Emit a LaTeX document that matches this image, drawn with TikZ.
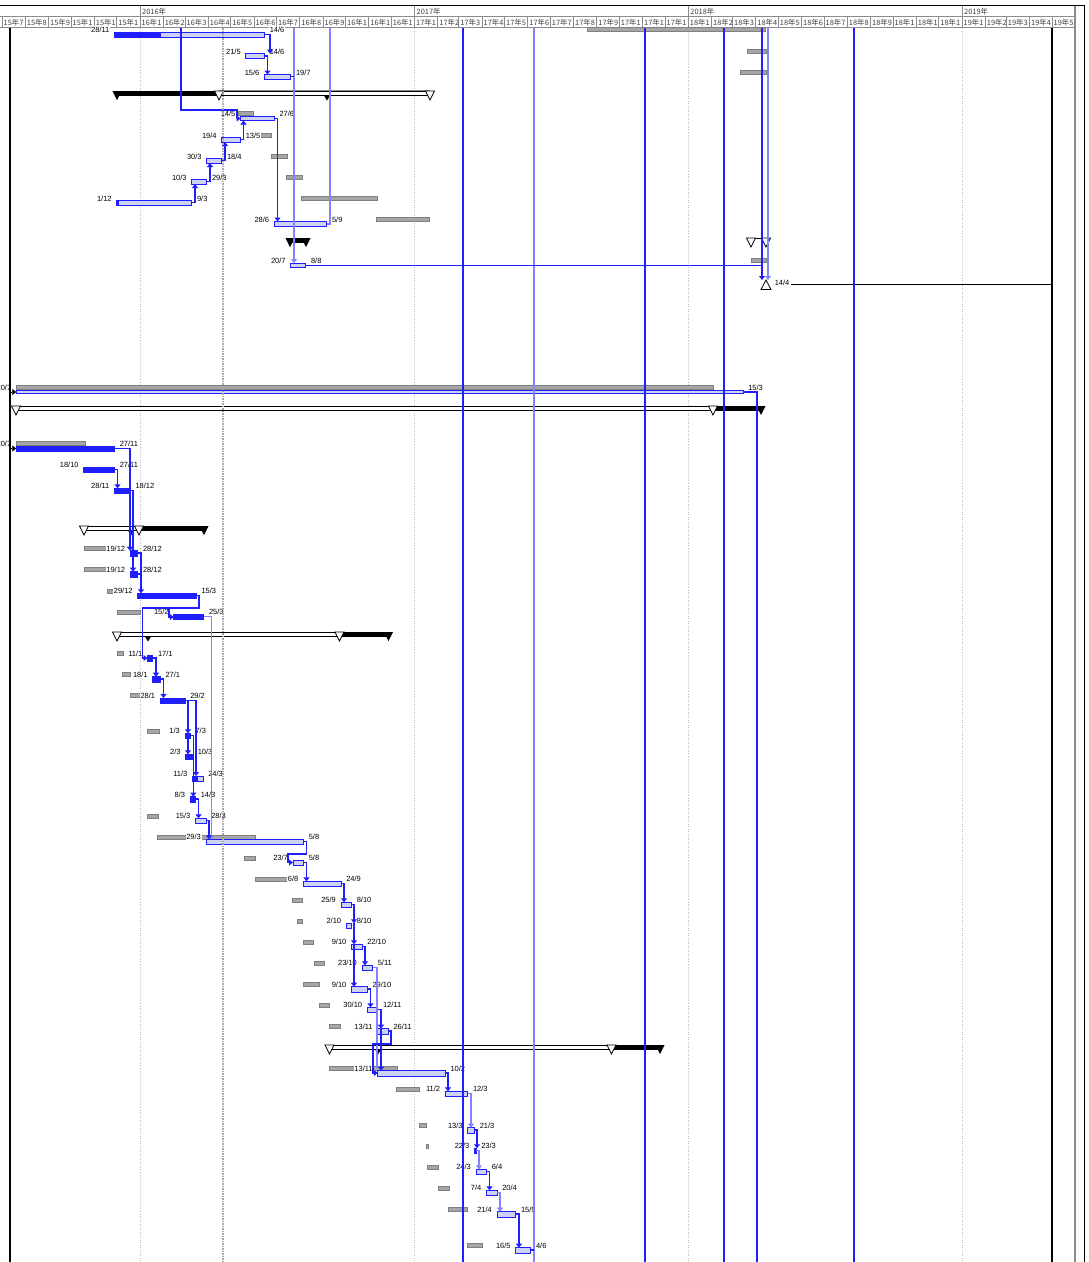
\documentclass[tikz,border=0pt]{standalone}
\usepackage{fontspec}
\setmainfont{Liberation Sans}
\newfontfamily\cjk{Noto Sans CJK SC}
\usetikzlibrary{arrows.meta}
\definecolor{lkblue}{RGB}{30,30,255}
\begin{document}
\begin{tikzpicture}[x=1pt,y=-1pt,
  tbar/.style={draw=lkblue,line width=0.9pt,fill={rgb,255:red,205;green,210;blue,240}},
  sbar/.style={draw=lkblue,line width=0.9pt,fill=lkblue},
  bbar/.style={draw=black!50,line width=0.5pt,fill=black!35},
  dl/.style={font=\fontsize{7.5}{8}\selectfont,inner sep=0.6pt,fill=white},
  hdr/.style={font=\cjk\fontsize{7.4}{8}\selectfont,text=black!75,inner sep=0pt,anchor=base west},
  lk/.style={lkblue,line width=1.1pt},
  lkl/.style={lkblue!55,line width=1.4pt},
  arr/.style={-{Triangle[length=4pt,width=6pt]}}]
\fill[white] (0,0) rectangle (1089,1262);
\useasboundingbox (0,0) rectangle (1089,1262);
% timescale
\draw[line width=1.2pt] (0,5.5) -- (1084.5,5.5);
\draw[black!45,line width=0.6pt] (0,16) -- (1075,16) (0,27.5) -- (1075,27.5);
\draw[black!45,line width=0.6pt] (140,5.5) -- (140,16) (414.5,5.5) -- (414.5,16) (688.25,5.5) -- (688.25,16) (962,5.5) -- (962,16);
\draw[black!45,line width=0.6pt] (2,16) -- (2,27.5) (25.25,16) -- (25.25,27.5) (48.5,16) -- (48.5,27.5) (71,16) -- (71,27.5) (94.25,16) -- (94.25,27.5) (116.75,16) -- (116.75,27.5)
  (140,16) -- (140,27.5) (163.25,16) -- (163.25,27.5) (185,16) -- (185,27.5) (208.25,16) -- (208.25,27.5) (230.75,16) -- (230.75,27.5) (254,16) -- (254,27.5)
  (276.5,16) -- (276.5,27.5) (299.75,16) -- (299.75,27.5) (323,16) -- (323,27.5) (345.5,16) -- (345.5,27.5) (368.75,16) -- (368.75,27.5) (391.25,16) -- (391.25,27.5)
  (414.5,16) -- (414.5,27.5) (437.75,16) -- (437.75,27.5) (458.75,16) -- (458.75,27.5) (482,16) -- (482,27.5) (504.5,16) -- (504.5,27.5) (527.75,16) -- (527.75,27.5)
  (550.25,16) -- (550.25,27.5) (573.5,16) -- (573.5,27.5) (596.75,16) -- (596.75,27.5) (619.25,16) -- (619.25,27.5) (642.5,16) -- (642.5,27.5) (665,16) -- (665,27.5)
  (688.25,16) -- (688.25,27.5) (711.5,16) -- (711.5,27.5) (732.5,16) -- (732.5,27.5) (755.75,16) -- (755.75,27.5) (778.25,16) -- (778.25,27.5) (801.5,16) -- (801.5,27.5)
  (824,16) -- (824,27.5) (847.25,16) -- (847.25,27.5) (870.5,16) -- (870.5,27.5) (893,16) -- (893,27.5) (916.25,16) -- (916.25,27.5) (938.75,16) -- (938.75,27.5)
  (962,16) -- (962,27.5) (985.25,16) -- (985.25,27.5) (1006.25,16) -- (1006.25,27.5) (1029.5,16) -- (1029.5,27.5) (1052,16) -- (1052,27.5);
\node[hdr] (y16) at (142,14.3) {2016年};
\node[hdr] (y17) at (416.5,14.3) {2017年};
\node[hdr] (y18) at (690.25,14.3) {2018年};
\node[hdr] (y19) at (964,14.3) {2019年};
\node[hdr] (m1507) at (3.5,25) {15年7};
\node[hdr] (m1508) at (26.75,25) {15年8};
\node[hdr] (m1509) at (50,25) {15年9};
\node[hdr] (m1510) at (72.5,25) {15年1};
\node[hdr] (m1511) at (95.75,25) {15年1};
\node[hdr] (m1512) at (118.25,25) {15年1};
\node[hdr] (m1601) at (141.5,25) {16年1};
\node[hdr] (m1602) at (164.75,25) {16年2};
\node[hdr] (m1603) at (186.5,25) {16年3};
\node[hdr] (m1604) at (209.75,25) {16年4};
\node[hdr] (m1605) at (232.25,25) {16年5};
\node[hdr] (m1606) at (255.5,25) {16年6};
\node[hdr] (m1607) at (278,25) {16年7};
\node[hdr] (m1608) at (301.25,25) {16年8};
\node[hdr] (m1609) at (324.5,25) {16年9};
\node[hdr] (m1610) at (347,25) {16年1};
\node[hdr] (m1611) at (370.25,25) {16年1};
\node[hdr] (m1612) at (392.75,25) {16年1};
\node[hdr] (m1701) at (416,25) {17年1};
\node[hdr] (m1702) at (439.25,25) {17年2};
\node[hdr] (m1703) at (460.25,25) {17年3};
\node[hdr] (m1704) at (483.5,25) {17年4};
\node[hdr] (m1705) at (506,25) {17年5};
\node[hdr] (m1706) at (529.25,25) {17年6};
\node[hdr] (m1707) at (551.75,25) {17年7};
\node[hdr] (m1708) at (575,25) {17年8};
\node[hdr] (m1709) at (598.25,25) {17年9};
\node[hdr] (m1710) at (620.75,25) {17年1};
\node[hdr] (m1711) at (644,25) {17年1};
\node[hdr] (m1712) at (666.5,25) {17年1};
\node[hdr] (m1801) at (689.75,25) {18年1};
\node[hdr] (m1802) at (713,25) {18年2};
\node[hdr] (m1803) at (734,25) {18年3};
\node[hdr] (m1804) at (757.25,25) {18年4};
\node[hdr] (m1805) at (779.75,25) {18年5};
\node[hdr] (m1806) at (803,25) {18年6};
\node[hdr] (m1807) at (825.5,25) {18年7};
\node[hdr] (m1808) at (848.75,25) {18年8};
\node[hdr] (m1809) at (872,25) {18年9};
\node[hdr] (m1810) at (894.5,25) {18年1};
\node[hdr] (m1811) at (917.75,25) {18年1};
\node[hdr] (m1812) at (940.25,25) {18年1};
\node[hdr] (m1901) at (963.5,25) {19年1};
\node[hdr] (m1902) at (986.75,25) {19年2};
\node[hdr] (m1903) at (1007.75,25) {19年3};
\node[hdr] (m1904) at (1031,25) {19年4};
\node[hdr] (m1905) at (1053.5,25) {19年5};
% year gridlines
\draw[black!25,dotted,line width=0.6pt] (140,28) -- (140,1262) (414.5,28) -- (414.5,1262) (688.25,28) -- (688.25,1262) (962,28) -- (962,1262);
% baselines
\draw[bbar] (587,27.5) rectangle (765,31.5);
\draw[bbar] (747,49) rectangle (766,53);
\draw[bbar] (740,70) rectangle (766,74);
\draw[bbar] (238,111.5) rectangle (253,115.5);
\draw[bbar] (260,133) rectangle (271,137);
\draw[bbar] (271,154) rectangle (287,158);
\draw[bbar] (286,175) rectangle (302,179);
\draw[bbar] (301,196) rectangle (377,200);
\draw[bbar] (376,217) rectangle (429,221);
\draw[bbar] (751,258.5) rectangle (766,262.5);
\draw[bbar] (16,385.5) rectangle (713,389.5);
\draw[bbar] (16,441.5) rectangle (85,445.5);
\draw[bbar] (84,546.5) rectangle (107,550.5);
\draw[bbar] (84,567.5) rectangle (107,571.5);
\draw[bbar] (107,589) rectangle (114,593);
\draw[bbar] (117,610) rectangle (140,614);
\draw[bbar] (117,651.5) rectangle (123,655.5);
\draw[bbar] (122,672.5) rectangle (130,676.5);
\draw[bbar] (130,693.5) rectangle (141,697.5);
\draw[bbar] (147,729) rectangle (159,733);
\draw[bbar] (147,814) rectangle (158,818);
\draw[bbar] (157,835) rectangle (255,839);
\draw[bbar] (244,856) rectangle (255,860);
\draw[bbar] (255,877) rectangle (288,881);
\draw[bbar] (292,898) rectangle (302,902);
\draw[bbar] (297,919) rectangle (302,923);
\draw[bbar] (303,940) rectangle (313,944);
\draw[bbar] (314,961) rectangle (324,965);
\draw[bbar] (303,982) rectangle (319,986);
\draw[bbar] (319,1003) rectangle (329,1007);
\draw[bbar] (329,1024) rectangle (340,1028);
\draw[bbar] (329,1066) rectangle (397,1070);
\draw[bbar] (396,1087) rectangle (419,1091);
\draw[bbar] (419,1123) rectangle (426,1127);
\draw[bbar] (426,1144) rectangle (428,1148);
\draw[bbar] (427,1165) rectangle (438,1169);
\draw[bbar] (438,1186) rectangle (449,1190);
\draw[bbar] (448,1207) rectangle (467,1211);
\draw[bbar] (467,1243) rectangle (482,1247);
% date labels
\node[dl,anchor=base east] (s1) at (110.2,32.5) {28/11};
\node[dl,anchor=base west] (f1) at (269,32.5) {14/6};
\node[dl,anchor=base east] (s2) at (241.5,54) {21/5};
\node[dl,anchor=base west] (f2) at (269,54) {14/6};
\node[dl,anchor=base east] (s3) at (260.2,75) {15/6};
\node[dl,anchor=base west] (f3) at (295.25,75) {19/7};
\node[dl,anchor=base east] (s5) at (236.2,116.5) {14/5};
\node[dl,anchor=base west] (f5) at (278.75,116.5) {27/6};
\node[dl,anchor=base east] (s6) at (217.45,138) {19/4};
\node[dl,anchor=base west] (f6) at (245,138) {13/5};
\node[dl,anchor=base east] (s7) at (202.45,159) {30/3};
\node[dl,anchor=base west] (f7) at (226.25,159) {18/4};
\node[dl,anchor=base east] (s8) at (187.45,180) {10/3};
\node[dl,anchor=base west] (f8) at (211.25,180) {29/3};
\node[dl,anchor=base east] (s9) at (112.45,201) {1/12};
\node[dl,anchor=base west] (f9) at (196.25,201) {9/3};
\node[dl,anchor=base east] (s10) at (269.95,222) {28/6};
\node[dl,anchor=base west] (f10) at (331.25,222) {5/9};
\node[dl,anchor=base east] (s12) at (286.45,263.5) {20/7};
\node[dl,anchor=base west] (f12) at (310.25,263.5) {8/8};
\node[dl,anchor=base west] (f13) at (774,285.5) {14/4};
\node[dl,anchor=base east] (sA) at (12,390.5) {20/7};
\node[dl,anchor=base west] (fA) at (747.5,390.5) {15/3};
\node[dl,anchor=base east] (sC) at (12,446.5) {20/7};
\node[dl,anchor=base west] (fC) at (119,446.5) {27/11};
\node[dl,anchor=base east] (sD) at (79.45,467.5) {18/10};
\node[dl,anchor=base west] (fD) at (119,467.5) {27/11};
\node[dl,anchor=base east] (sE) at (110.2,488.8) {28/11};
\node[dl,anchor=base west] (fE) at (134.75,488.8) {18/12};
\node[dl,anchor=base east] (sG) at (125.95,551.2) {19/12};
\node[dl,anchor=base west] (fG) at (142.25,551.2) {28/12};
\node[dl,anchor=base east] (sH) at (125.95,572.2) {19/12};
\node[dl,anchor=base west] (fH) at (142.25,572.2) {28/12};
\node[dl,anchor=base east] (sI) at (133.45,593.8) {29/12};
\node[dl,anchor=base west] (fI) at (200.75,593.8) {15/3};
\node[dl,anchor=base east] (sJ) at (169.45,614.8) {15/2};
\node[dl,anchor=base west] (fJ) at (208.25,614.8) {25/3};
\node[dl,anchor=base east] (sL) at (143.2,656.2) {11/1};
\node[dl,anchor=base west] (fL) at (157.25,656.2) {17/1};
\node[dl,anchor=base east] (sM) at (148.45,677.2) {18/1};
\node[dl,anchor=base west] (fM) at (164.75,677.2) {27/1};
\node[dl,anchor=base east] (sN) at (155.95,698.5) {28/1};
\node[dl,anchor=base west] (fN) at (189.5,698.5) {29/2};
\node[dl,anchor=base east] (sO) at (180.7,733.8) {1/3};
\node[dl,anchor=base west] (fO) at (194.75,733.8) {7/3};
\node[dl,anchor=base east] (sP) at (181.45,754.8) {2/3};
\node[dl,anchor=base west] (fP) at (197,754.8) {10/3};
\node[dl,anchor=base east] (sQ) at (188.2,776.5) {11/3};
\node[dl,anchor=base west] (fQ) at (207.5,776.5) {24/3};
\node[dl,anchor=base east] (sR) at (185.95,797.2) {8/3};
\node[dl,anchor=base west] (fR) at (200,797.2) {14/3};
\node[dl,anchor=base east] (sS) at (191.2,818.8) {15/3};
\node[dl,anchor=base west] (fS) at (210.5,818.8) {28/3};
\node[dl,anchor=base east] (sT) at (201.7,839.8) {29/3};
\node[dl,anchor=base west] (fT) at (308,839.8) {5/8};
\node[dl,anchor=base east] (sU) at (288.7,860.8) {23/7};
\node[dl,anchor=base west] (fU) at (308,860.8) {5/8};
\node[dl,anchor=base east] (sV) at (299.2,881.8) {6/8};
\node[dl,anchor=base west] (fV) at (345.5,881.8) {24/9};
\node[dl,anchor=base east] (sW) at (336.7,902.8) {25/9};
\node[dl,anchor=base west] (fW) at (356,902.8) {8/10};
\node[dl,anchor=base east] (sX) at (341.95,923.8) {2/10};
\node[dl,anchor=base west] (fX) at (356,923.8) {8/10};
\node[dl,anchor=base east] (sY) at (347.2,944.8) {9/10};
\node[dl,anchor=base west] (fY) at (366.5,944.8) {22/10};
\node[dl,anchor=base east] (sZ) at (357.7,965.8) {23/10};
\node[dl,anchor=base west] (fZ) at (377,965.8) {5/11};
\node[dl,anchor=base east] (sAA) at (347.2,987.2) {9/10};
\node[dl,anchor=base west] (fAA) at (371.75,987.2) {29/10};
\node[dl,anchor=base east] (sAB) at (362.95,1007.8) {30/10};
\node[dl,anchor=base west] (fAB) at (382.25,1007.8) {12/11};
\node[dl,anchor=base east] (sAC) at (373.45,1029.2) {13/11};
\node[dl,anchor=base west] (fAC) at (392.75,1029.2) {26/11};
\node[dl,anchor=base east] (sAE) at (373.45,1071.2) {13/11};
\node[dl,anchor=base west] (fAE) at (449.75,1071.2) {10/2};
\node[dl,anchor=base east] (sAF) at (440.95,1091.8) {11/2};
\node[dl,anchor=base west] (fAF) at (472.25,1091.8) {12/3};
\node[dl,anchor=base east] (sAG) at (463.45,1128.2) {13/3};
\node[dl,anchor=base west] (fAG) at (479,1128.2) {21/3};
\node[dl,anchor=base east] (sAH) at (470.2,1148.8) {22/3};
\node[dl,anchor=base west] (fAH) at (480.5,1148.8) {23/3};
\node[dl,anchor=base east] (sAI) at (471.7,1169.8) {24/3};
\node[dl,anchor=base west] (fAI) at (491,1169.8) {6/4};
\node[dl,anchor=base east] (sAJ) at (482.2,1190.8) {7/4};
\node[dl,anchor=base west] (fAJ) at (501.5,1190.8) {20/4};
\node[dl,anchor=base east] (sAK) at (492.7,1212.2) {21/4};
\node[dl,anchor=base west] (fAK) at (520.25,1212.2) {15/5};
\node[dl,anchor=base east] (sAL) at (511.45,1248.2) {16/5};
\node[dl,anchor=base west] (fAL) at (535.25,1248.2) {4/6};
% task bars
\draw[tbar] (114.5,32) rectangle (264.5,37);
\draw[sbar] (114.5,32) rectangle (160,37);
\draw[tbar] (245.75,53.5) rectangle (264.5,58);
\draw[tbar] (264.5,74.5) rectangle (290.75,79);
\draw[tbar] (240.5,116) rectangle (274.25,120.5);
\draw[tbar] (221.75,137.5) rectangle (240.5,142);
\draw[tbar] (206.75,158.5) rectangle (221.75,163);
\draw[tbar] (191.75,179.5) rectangle (206.75,184);
\draw[tbar] (116.75,200.5) rectangle (191.75,205);
\draw[sbar] (116.75,200.5) rectangle (118.5,205);
\draw[tbar] (274.25,221.5) rectangle (326.75,226);
\draw[tbar] (290.75,263) rectangle (305.75,267.5);
\draw[tbar] (16.25,390) rectangle (743,393.5);
\draw[sbar] (16.25,446) rectangle (114.5,451.5);
\draw[sbar] (83.75,467) rectangle (114.5,472.5);
\draw[sbar] (114.5,488.3) rectangle (130.25,493.8);
\draw[sbar] (130.25,550.7) rectangle (137.75,556.2);
\draw[sbar] (130.25,571.7) rectangle (137.75,577.2);
\draw[sbar] (137.75,593.3) rectangle (196.25,598.8);
\draw[sbar] (173.75,614.3) rectangle (203.75,619.8);
\draw[sbar] (147.5,655.7) rectangle (152.75,661.2);
\draw[sbar] (152.75,676.7) rectangle (160.25,682.2);
\draw[sbar] (160.25,698) rectangle (185,703.5);
\draw[sbar] (185,733.3) rectangle (190.25,738.8);
\draw[sbar] (185.75,754.3) rectangle (192.5,759.8);
\draw[tbar] (192.5,776) rectangle (203,781.5);
\draw[sbar] (192.5,776) rectangle (197.5,781.5);
\draw[sbar] (190.25,796.7) rectangle (195.5,802.2);
\draw[tbar] (195.5,818.3) rectangle (206,823.8);
\draw[tbar] (206,839.3) rectangle (303.5,844.8);
\draw[tbar] (293,860.3) rectangle (303.5,865.8);
\draw[tbar] (303.5,881.3) rectangle (341,886.8);
\draw[tbar] (341,902.3) rectangle (351.5,907.8);
\draw[tbar] (346.25,923.3) rectangle (351.5,928.8);
\draw[tbar] (351.5,944.3) rectangle (362,949.8);
\draw[tbar] (362,965.3) rectangle (372.5,970.8);
\draw[tbar] (351.5,986.7) rectangle (367.25,992.2);
\draw[tbar] (367.25,1007.3) rectangle (377.75,1012.8);
\draw[tbar] (377.75,1028.7) rectangle (388.25,1034.2);
\draw[tbar] (377.75,1070.7) rectangle (445.25,1076.2);
\draw[tbar] (445.25,1091.3) rectangle (467.75,1096.8);
\draw[tbar] (467.75,1127.7) rectangle (474.5,1133.2);
\draw[sbar] (474.5,1148.3) rectangle (476,1153.8);
\draw[tbar] (476,1169.3) rectangle (486.5,1174.8);
\draw[tbar] (486.5,1190.3) rectangle (497,1195.8);
\draw[tbar] (497,1211.7) rectangle (515.75,1217.2);
\draw[tbar] (515.75,1247.7) rectangle (530.75,1253.2);
% summary bars
\fill (115,91) rectangle (219,95.5);
\draw[fill=white,line width=0.8pt] (219,91) rectangle (430,95.5);
\draw[black!45,line width=1.2pt] (219,90.6) -- (430,90.6);
\fill (112.5,91) -- (121.5,91) -- (117,100) -- cycle;
\draw[fill=white,line width=0.7pt] (214.5,91) -- (223.5,91) -- (219,100) -- cycle;
\draw[fill=white,line width=0.7pt] (425.5,91) -- (434.5,91) -- (430,100) -- cycle;
\fill (324,95.5) -- (330,95.5) -- (327,100.5) -- cycle;
\fill (290,238) rectangle (306,242.5);
\fill (285.5,238) -- (294.5,238) -- (290,247) -- cycle;
\fill (301.5,238) -- (310.5,238) -- (306,247) -- cycle;
\draw[line width=0.8pt] (751,238.5) -- (766,238.5);
\draw[fill=white,line width=0.7pt] (746.5,238) -- (755.5,238) -- (751,247) -- cycle;
\draw[fill=white,line width=0.7pt] (761.5,238) -- (770.5,238) -- (766,247) -- cycle;
\draw[line width=0.8pt] (791,284.5) -- (1052,284.5);
\draw[fill=white,line width=0.8pt] (761,289.5) -- (771,289.5) -- (766,280) -- cycle;
\draw[fill=white,line width=0.8pt] (16,406) rectangle (713,410.5);
\fill (713,406) rectangle (761,410.5);
\draw[fill=white,line width=0.7pt] (11.5,406) -- (20.5,406) -- (16,415) -- cycle;
\draw[fill=white,line width=0.7pt] (708.5,406) -- (717.5,406) -- (713,415) -- cycle;
\fill (756.5,406) -- (765.5,406) -- (761,415) -- cycle;
\draw[fill=white,line width=0.8pt] (84,526) rectangle (139,530.5);
\fill (139,526) rectangle (204,530.5);
\draw[fill=white,line width=0.7pt] (79.5,526) -- (88.5,526) -- (84,535) -- cycle;
\fill (128,530.5) -- (134,530.5) -- (131,535.5) -- cycle;
\draw[fill=white,line width=0.7pt] (134.5,526) -- (143.5,526) -- (139,535) -- cycle;
\fill (199.5,526) -- (208.5,526) -- (204,535) -- cycle;
\draw[fill=white,line width=0.8pt] (117,632) rectangle (339.5,636.5);
\fill (339.5,632) rectangle (388.5,636.5);
\draw[fill=white,line width=0.7pt] (112.5,632) -- (121.5,632) -- (117,641) -- cycle;
\fill (145,636.5) -- (151,636.5) -- (148,641.5) -- cycle;
\draw[fill=white,line width=0.7pt] (335,632) -- (344,632) -- (339.5,641) -- cycle;
\fill (384,632) -- (393,632) -- (388.5,641) -- cycle;
\draw[fill=white,line width=0.8pt] (329.5,1045) rectangle (611.5,1049.5);
\fill (611.5,1045) rectangle (660,1049.5);
\draw[fill=white,line width=0.7pt] (325,1045) -- (334,1045) -- (329.5,1054) -- cycle;
\fill (375,1049.5) -- (381,1049.5) -- (378,1054.5) -- cycle;
\draw[fill=white,line width=0.7pt] (607,1045) -- (616,1045) -- (611.5,1054) -- cycle;
\fill (655.5,1045) -- (664.5,1045) -- (660,1054) -- cycle;
% links
\draw[lk] (463,28) -- (463,1262);
\draw[lkl] (534,28) -- (534,1262);
\draw[lk] (645,28) -- (645,1262);
\draw[lk] (724,28) -- (724,1262);
\draw[lk] (854,28) -- (854,1262);
\draw[lk,arr] (264.5,34.5) -| (270,53.5);
\draw[lk,arr] (264.5,56) -| (267.5,74.5);
\draw[lkl,arr] (294,28) -- (294,263);
\draw[lk] (290.75,76.5) -- (294,76.5);
\draw[lk,arr] (181,28) -- (181,110) -- (237,110) -- (237,118.5) -- (240.5,118.5);
\draw[lk,arr] (240.5,139.5) -| (243.5,120.5);
\draw[lk,arr] (221.75,160.5) -| (225,142);
\draw[lk,arr] (206.75,181.5) -| (210,163);
\draw[lk,arr] (191.75,202.5) -| (195,184);
\draw[lk,arr] (274.25,118.5) -| (277.5,221.5);
\draw[lkl] (330,28) -- (330,224) -- (326.75,224);
\draw[lk] (305.75,265.5) -- (762,265.5);
\draw[lk,arr] (762,28) -- (762,280);
\draw[lkl,arr] (768,28) -- (768,280);
\draw[line width=0.8pt,arr] (10,392) -- (16.25,392);
\draw[line width=0.8pt,arr] (10,448.5) -- (16.25,448.5);
\draw[lk] (743,392) -- (757,392) -- (757,1262);
\draw[lk,arr] (114.5,448.5) -| (130,550.7);
\draw[lk,arr] (114.5,469.5) -| (117.5,488.3);
\draw[lk,arr] (130.25,490.5) -| (133,571.7);
\draw[lk,arr] (137.75,553) -| (141,593.3);
\draw[lk] (137.75,574) -- (141,574);
\draw[lk,arr] (196.25,595.5) -- (199,595.5) -- (199,608) -- (142.5,608) -- (142.5,658) -- (147.5,658);
\draw[lk,arr] (169,608) -- (169,617) -- (173.75,617);
\draw[lkl,arr] (203.75,616.5) -| (211.5,839.3);
\draw[lk,arr] (152.75,658) -| (156,676.7);
\draw[lk,arr] (160.25,679) -| (163.5,698);
\draw[lk,arr] (185,700.5) -| (188,733.3);
\draw[lk,arr] (188,733.3) -- (188,754.3);
\draw[lk,arr] (185,700.5) -| (196,776);
\draw[lk,arr] (190.25,735.5) -| (193.3,796.7);
\draw[lk,arr] (195.5,799) -| (198.5,818.3);
\draw[lk,arr] (206,820.5) -| (209,839.3);
\draw[lk,arr] (303.5,841.5) -- (306.5,841.5) -- (306.5,854) -- (288,854) -- (288,862.5) -- (293,862.5);
\draw[lk,arr] (303.5,862.5) -| (306.5,881.3);
\draw[lk,arr] (341,883.5) -| (344,902.3);
\draw[lk,arr] (351.5,904.5) -| (354,923.3);
\draw[lk,arr] (354,923.3) -- (354,944.3);
\draw[lk,arr] (354,944.3) -- (354,986.7);
\draw[lk,arr] (362,946.5) -| (365,965.3);
\draw[lkl] (372.5,967.5) -| (377,1068);
\draw[lk,arr] (367.25,989) -| (370.5,1007.3);
\draw[lk,arr] (377.75,1009.5) -| (381,1028.7);
\draw[lk,arr] (381,1028.7) -- (381,1070.7);
\draw[lk,arr] (388.25,1031) -- (391,1031) -- (391,1044) -- (373,1044) -- (373,1073) -- (377.75,1073);
\draw[lk,arr] (445.25,1073) -| (448,1091.3);
\draw[lkl,arr] (467.75,1093.5) -| (471,1127.7);
\draw[lk,arr] (474.5,1130) -| (477,1148.3);
\draw[lkl,arr] (476,1150.5) -| (479,1169.3);
\draw[lk,arr] (486.5,1171.5) -| (489.5,1190.3);
\draw[lkl,arr] (497,1192.5) -| (500,1211.7);
\draw[lk,arr] (515.75,1214) -| (519,1247.7);
\draw[lk] (530.75,1250) -- (534,1250);
% status date, project start and finish
\draw[black!35,line width=2pt,dash pattern=on 1.5pt off 1pt] (223,28) -- (223,1262);
\draw[line width=2pt] (10,28) -- (10,1262);
\draw[line width=2pt] (1052,28) -- (1052,1262);
\draw[black!45,line width=2pt] (1075,5.5) -- (1075,1262);
\draw[line width=0.8pt] (1084.5,5.5) -- (1084.5,1262);
\end{tikzpicture}
\end{document}
